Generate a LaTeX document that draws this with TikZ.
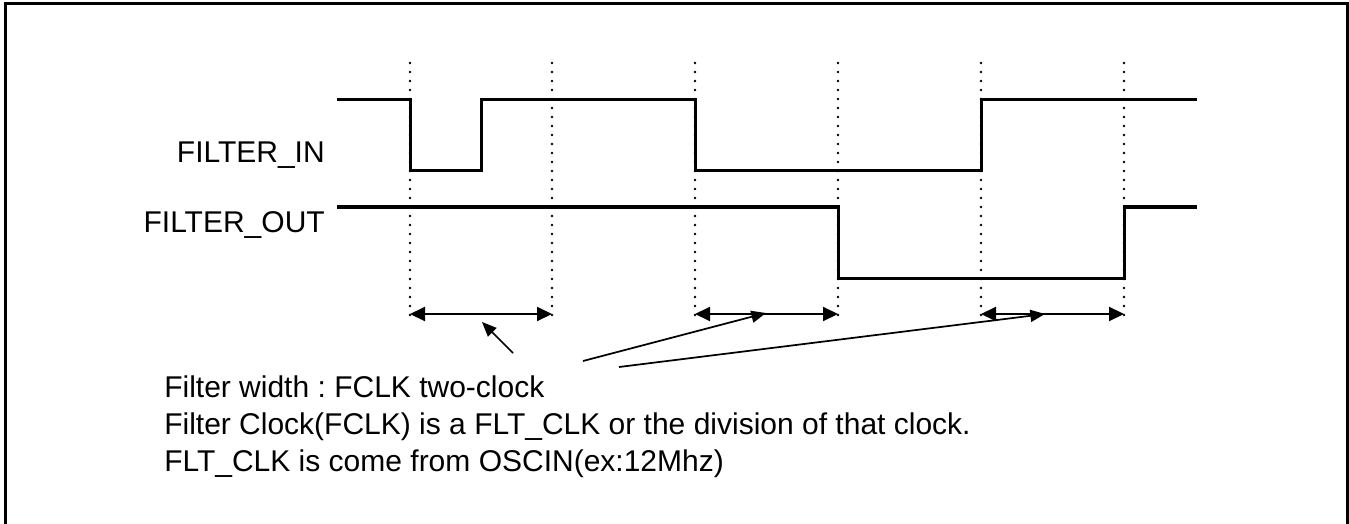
\documentclass[tikz,border=0pt]{standalone}
\usepackage{fontspec}
\setmainfont{Liberation Sans}
\usetikzlibrary{arrows.meta}
\frenchspacing

\tikzset{
    signal/.style={line width=2.25pt, line cap=rect},
    guide/.style={line width=2pt, line cap=round, dash pattern=on 0pt off 6.75pt},
    span/.style={{Triangle[length=11.25pt, width=10.5pt]}-{Triangle[length=11.25pt, width=10.5pt]}, line width=1.5pt},
    pointer/.style={-{Triangle[length=11pt, width=9pt]}, line width=1.3pt},
    siglabel/.style={inner sep=0pt, font=\fontsize{22.5pt}{27pt}\selectfont},
    notetext/.style={inner sep=0pt, font=\fontsize{22.5pt}{27pt}\selectfont}
}

\begin{document}
\begin{tikzpicture}[x=0.75pt, y=-0.75pt]
    \useasboundingbox (0,0) rectangle (1349,524);
    \def\hiIn{100}
    \def\loIn{171}
    \def\hiOut{207}
    \def\loOut{278}
    \def\spanY{314}

    % frame, open at the bottom edge
    \draw[line width=2.25pt] (5.5,524) -- (5.5,4) -- (1347.5,4) -- (1347.5,524);

    % dotted guides
    \foreach \x in {410,552,695,838,981,1124}
        \draw[guide] (\x,63) -- (\x,318);

    % FILTER_IN
    \draw[signal] (338,\hiIn) -- (410,\hiIn) -- (410,\loIn) -- (481,\loIn)
        -- (481,\hiIn) -- (695,\hiIn) -- (695,\loIn) -- (981,\loIn)
        -- (981,\hiIn) -- (1195,\hiIn);
    % FILTER_OUT
    \draw[signal] (338,\hiOut) -- (838,\hiOut) -- (838,\loOut) -- (1124,\loOut)
        -- (1124,\hiOut) -- (1195,\hiOut);

    \node[siglabel, anchor=base east] (in) at (325,163) {FILTER\_IN};
    \node[siglabel, anchor=base east] (out) at (325,233) {FILTER\_OUT};

    % filter widths
    \coordinate (s1a) at (410,\spanY);
    \coordinate (s1b) at (552,\spanY);
    \coordinate (s2a) at (695,\spanY);
    \coordinate (s2b) at (838,\spanY);
    \coordinate (s3a) at (981,\spanY);
    \coordinate (s3b) at (1124,\spanY);
    \draw[span] (s1a) -- (s1b);
    \draw[span] (s2a) -- (s2b);
    \draw[span] (s3a) -- (s3b);

    % pointers
    \coordinate (p1) at (513,353);
    \coordinate (p2) at (583,361);
    \coordinate (p3) at (619,367);
    \coordinate (t1) at (482,322);
    \coordinate (t2) at (766,313);
    \coordinate (t3) at (1045,314);
    \draw[pointer] (p1) -- (t1);
    \draw[pointer] (p2) -- (t2);
    \draw[pointer] (p3) -- (t3);

    % notes
    \node[notetext, anchor=base west] (note1) at (164,397) {Filter width : FCLK two-clock};
    \node[notetext, anchor=base west] (note2) at (164,434) {Filter Clock(FCLK) is a FLT\_CLK or the division of that clock.};
    \node[notetext, anchor=base west] (note3) at (164,471) {FLT\_CLK is come from OSCIN(ex:12Mhz)};
\end{tikzpicture}
\end{document}
